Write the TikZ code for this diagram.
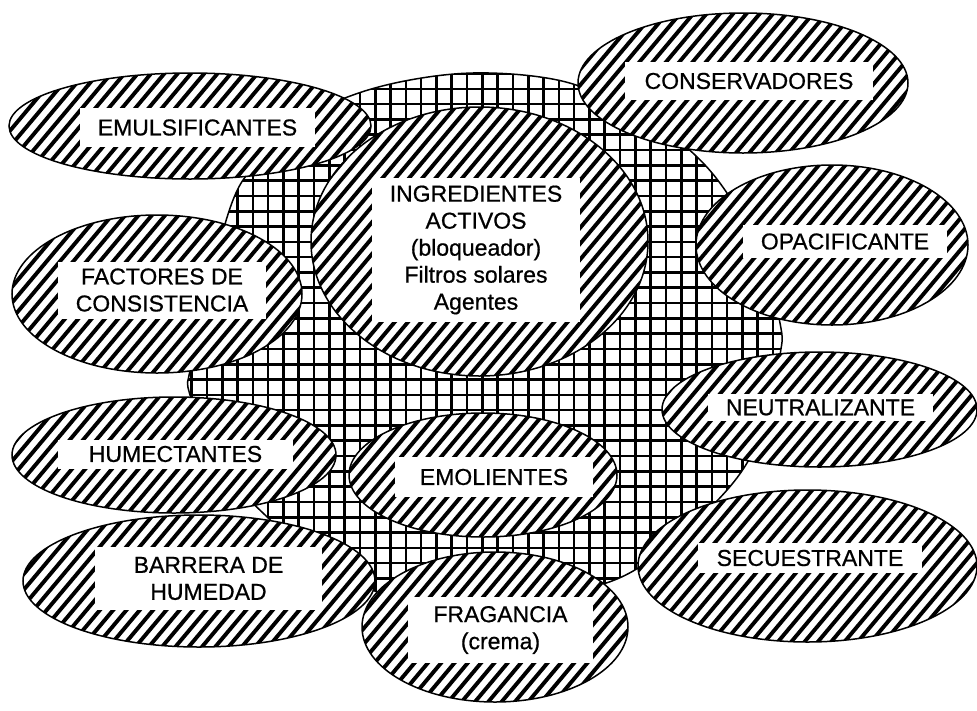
\documentclass[tikz,border=0pt]{standalone}
\usepackage{fontspec}
\setmainfont{Liberation Sans}
\newfontfamily\lblfont[FakeBold=0.7]{Liberation Sans}
\tikzset{
  hatchline/.style={line width=3.9pt},
  outline/.style={line width=1.5pt},
  gridline/.style={line width=2.6pt},
  tbox/.style={fill=white, inner sep=0pt, align=center, font=\lblfont\fontsize{23}{27}\selectfont},
}
\newcommand\hatchell[4]{%
  \fill[white] (#1,#2) ellipse [x radius=#3, y radius=#4];
  \begin{scope}
    \clip (#1,#2) ellipse [x radius=#3, y radius=#4];
    \foreach \k in {0,...,120} {
      \draw[hatchline] (-10,{\k*15.85+11.92}) -- (990,{\k*15.85-1180.08});
    }
  \end{scope}
  \draw[outline] (#1,#2) ellipse [x radius=#3, y radius=#4];
}
\begin{document}
\begin{tikzpicture}[x=1pt,y=-1pt]
\useasboundingbox (0,0) rectangle (977,710);
\fill[white] (0,0) rectangle (977,710);
% background cross-hatched blob
\def\blob{plot[smooth cycle, tension=0.6] coordinates {(353,95) (410,80) (473,73) (540,77) (590,90) (650,120) (695,155) (727,193) (760,250) (780,323) (780,355) (765,420) (747,463) (715,503) (660,553) (600,585) (500,600) (400,597) (330,570) (263,513) (215,460) (190,395) (190,370) (205,300) (233,200) (260,160) (300,120)}}
\begin{scope}
  \clip \blob;
  \foreach \k in {-29,...,12} { \draw[gridline] ({620+\k*15.3},50) -- ({620+\k*15.3},620); }
  \foreach \k in {-7,...,31} { \draw[gridline] (170,{150+\k*15.3}) -- (800,{150+\k*15.3}); }
\end{scope}
\draw[outline] \blob;
% central circle
\hatchell{479.5}{241.5}{168.5}{134.5}
\node[tbox, minimum width=208pt, minimum height=144pt] (ingr) at (476,250) {INGREDIENTES\\ACTIVOS\\(bloqueador)\\Filtros solares\\Agentes};
% surrounding ellipses
\hatchell{190}{126}{181}{53}
\node[tbox, minimum width=235pt, minimum height=39pt] (emul) at (197.5,127.5) {EMULSIFICANTES};
\hatchell{743}{83}{165}{70}
\node[tbox, minimum width=248pt, minimum height=38pt] (cons) at (749,81) {CONSERVADORES};
\hatchell{832}{245}{136}{80}
\node[tbox, minimum width=204pt, minimum height=33pt] (opac) at (845,241.5) {OPACIFICANTE};
\hatchell{157}{294}{145}{79}
\node[tbox, minimum width=208pt, minimum height=57pt] (fact) at (162,290) {FACTORES DE\\CONSISTENCIA};
\hatchell{819.5}{409.5}{157.5}{57.5}
\node[tbox, minimum width=225pt, minimum height=27pt] (neut) at (820.5,407.5) {NEUTRALIZANTE};
\hatchell{174}{455}{162}{58}
\node[tbox, minimum width=235pt, minimum height=29pt] (hume) at (175.5,454) {HUMECTANTES};
\hatchell{483}{475}{134}{62}
\node[tbox, minimum width=198pt, minimum height=40pt] (emol) at (494,477) {EMOLIENTES};
\hatchell{807.5}{566}{169.5}{76}
\node[tbox, minimum width=224pt, minimum height=30pt] (secu) at (810,558) {SECUESTRANTE};
\hatchell{199}{581}{176}{66}
\node[tbox, minimum width=227pt, minimum height=63pt] (barr) at (208.5,578.5) {BARRERA DE\\HUMEDAD};
\hatchell{495}{627}{133}{75}
\node[tbox, minimum width=185pt, minimum height=66pt] (frag) at (500.5,630) {FRAGANCIA\\(crema)};
\end{tikzpicture}
\end{document}
